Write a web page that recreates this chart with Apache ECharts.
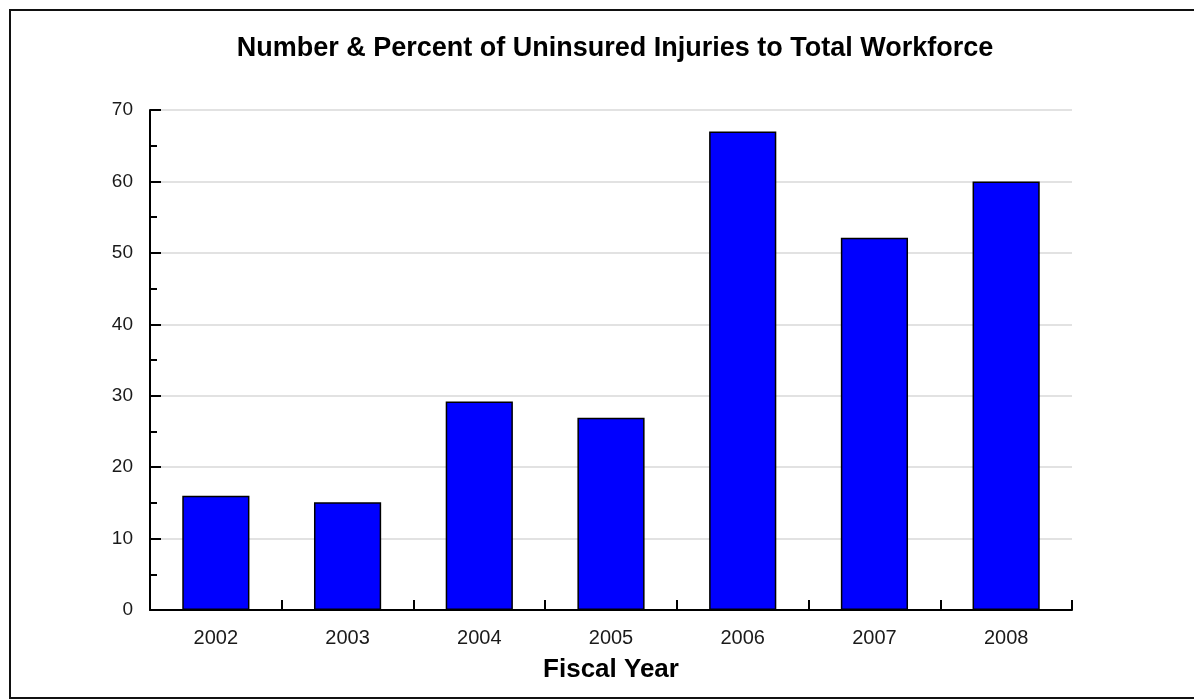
<!DOCTYPE html>
<html>
<head>
<meta charset="utf-8">
<script src="https://cdn.jsdelivr.net/npm/echarts@6/dist/echarts.min.js"></script>
<style>
  html, body { margin: 0; padding: 0; background: #fff; }
  #chart { width: 1194px; height: 700px; }
</style>
</head>
<body>
<div id="chart"></div>
<script>
// data
const years = ['2002', '2003', '2004', '2005', '2006', '2007', '2008'];
const injuries = [16, 15.1, 29.2, 26.9, 67, 52.1, 60];
const yTicks = [0, 10, 20, 30, 40, 50, 60, 70];

const chart = echarts.init(document.getElementById('chart'));
const font = '"Liberation Sans", Arial, sans-serif';

chart.setOption({
    animation: false,
    backgroundColor: '#fff',
    title: {
        text: 'Number & Percent of Uninsured Injuries to Total Workforce',
        left: 610,
        textAlign: 'center',
        top: 30,
        textStyle: { fontFamily: font, fontSize: 27, fontWeight: 'bold', color: '#000' }
    },
    grid: { left: 150, right: 122, top: 110, bottom: 90 },
    xAxis: {
        type: 'category',
        data: years,
        name: 'Fiscal Year',
        nameLocation: 'middle',
        nameGap: 47,
        nameTextStyle: { fontFamily: font, fontSize: 26, fontWeight: 'bold', color: '#000' },
        axisLine: { lineStyle: { color: '#000', width: 2 } },
        axisTick: { show: true, interval: 0, inside: true, length: 10, lineStyle: { color: '#000', width: 2 } },
        axisLabel: { margin: 18, fontFamily: font, fontSize: 20, color: '#1a1a1a' }
    },
    yAxis: {
        type: 'value',
        min: yTicks[0],
        max: yTicks[yTicks.length - 1],
        interval: 10,
        axisLine: { show: true, lineStyle: { color: '#000', width: 2 } },
        axisTick: { show: true, inside: true, length: 11, lineStyle: { color: '#000', width: 2 } },
        minorTick: { show: true, splitNumber: 2, length: 7, lineStyle: { color: '#000', width: 2 } },
        splitLine: { lineStyle: { color: '#d9d9d9', width: 1.5 } },
        axisLabel: { margin: 17, fontFamily: font, fontSize: 19, color: '#1a1a1a' }
    },
    series: [{
        type: 'bar',
        data: injuries,
        barWidth: '51%',
        itemStyle: { color: '#0000ff', borderColor: '#000', borderWidth: 1.5 }
    }],
    graphic: [{
        type: 'rect',
        shape: { x: 10, y: 10, width: 1200, height: 688 },
        style: { fill: null, stroke: '#111', lineWidth: 2 },
        silent: true
    }]
});
</script>
</body>
</html>
